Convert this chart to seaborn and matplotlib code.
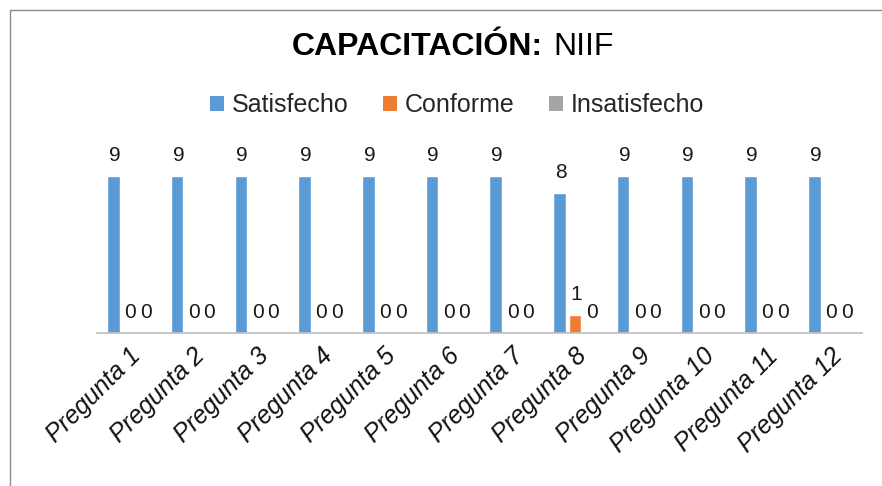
import pandas as pd
import numpy as np

import matplotlib.pyplot as plt
import seaborn as sns
from matplotlib.patches import Patch

# =====================================================
# DATOS
# =====================================================

preguntas = [f"Pregunta {i}" for i in range(1, 13)]

satisfecho = [9, 9, 9, 9, 9, 9, 9, 8, 9, 9, 9, 9]
conforme = [0, 0, 0, 0, 0, 0, 0, 1, 0, 0, 0, 0]
insatisfecho = [0, 0, 0, 0, 0, 0, 0, 0, 0, 0, 0, 0]

series = ["Satisfecho", "Conforme", "Insatisfecho"]
colores = ["#5B9BD5", "#ED7D31", "#A5A5A5"]

df = pd.DataFrame({
    "Pregunta": preguntas * 3,
    "Serie": [s for s in series for _ in preguntas],
    "Valor": satisfecho + conforme + insatisfecho
})

# =====================================================
# GRAFICO
# =====================================================

sns.set_theme(style="white")
plt.rcParams["font.family"] = ["Liberation Sans", "DejaVu Sans"]

fig = plt.figure(figsize=(8.82, 4.86), dpi=100)
ax = fig.add_axes([0.110, 0.315, 0.867, 0.359])

sns.barplot(
    data=df,
    x="Pregunta",
    y="Valor",
    hue="Serie",
    hue_order=series,
    palette=colores,
    width=0.73,
    gap=0.19,
    saturation=1,
    legend=False,
    ax=ax
)

ax.set_ylim(0, 10)
ax.set_xlim(-0.5, 11.5)

# etiquetas de datos
for cont in ax.containers:
    for barra in cont:
        h = barra.get_height()
        ax.annotate(
            f"{h:.0f}",
            (barra.get_x() + barra.get_width() / 2 + 0.02, h),
            xytext=(0, 15),
            textcoords="offset points",
            ha="center",
            va="center",
            fontsize=15,
            color="#1a1a1a"
        )

ax.set_xlabel("")
ax.set_ylabel("")
ax.set_yticks([])
for lado in ["top", "left", "right"]:
    ax.spines[lado].set_visible(False)
ax.spines["bottom"].set_color("#BFBFBF")
ax.spines["bottom"].set_linewidth(1.2)

ax.tick_params(axis="x", length=0, pad=8)
plt.setp(
    ax.get_xticklabels(),
    rotation=45,
    ha="right",
    rotation_mode="anchor",
    fontsize=18,
    fontstyle="italic",
    color="#111111"
)

# leyenda
manijas = [Patch(facecolor=c, edgecolor="none") for c in colores]
fig.legend(
    manijas,
    series,
    loc="center",
    bbox_to_anchor=(0.518, 0.784),
    ncol=3,
    frameon=False,
    fontsize=18,
    handlelength=0.55,
    handleheight=0.55,
    handletextpad=0.3,
    columnspacing=1.4
)

# titulo
fig.text(0.616, 0.903, "CAPACITACIÓN:", ha="right", va="center",
         fontsize=23, fontweight="bold", color="#000000")
fig.text(0.627, 0.903, "NIIF", ha="left", va="center",
         fontsize=23, color="#000000")

# borde
fig.add_artist(plt.Line2D([0.011, 1.0], [0.979, 0.979],
                          transform=fig.transFigure, color="#8C8C8C", lw=1))
fig.add_artist(plt.Line2D([0.011, 0.011], [0.0, 0.979],
                          transform=fig.transFigure, color="#8C8C8C", lw=1))

fig.savefig("out.png", dpi=100, facecolor="white")
